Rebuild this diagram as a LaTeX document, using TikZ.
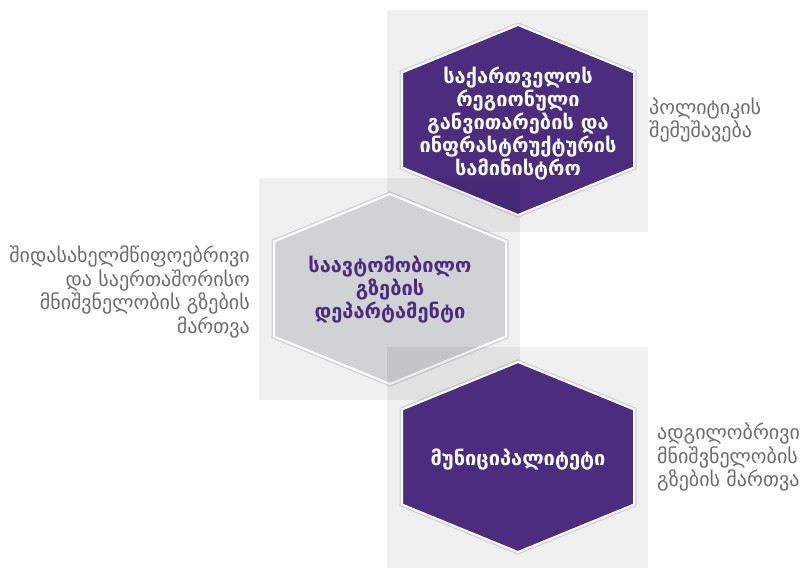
\documentclass[tikz,border=0pt]{standalone}
\usepackage{fontspec}
\setmainfont{DejaVu Sans}
\usetikzlibrary{positioning}
\definecolor{hexpurple}{RGB}{75,44,126}
\definecolor{hexgray}{RGB}{209,210,212}
\definecolor{labelgray}{RGB}{108,108,110}

% hexagon round a point: #1 centre, #2 fill colour
\newcommand{\hexround}[2]{%
  \draw[black, opacity=0.12, line width=5pt] (#1) ++(0,-95) -- ++(116,47.5)
    -- ++(0,95) -- ++(-116,47.5) -- ++(-116,-47.5) -- ++(0,-95) -- cycle;
  \draw[white, line width=2pt, fill=#2] (#1) ++(0,-95) -- ++(116,47.5)
    -- ++(0,95) -- ++(-116,47.5) -- ++(-116,-47.5) -- ++(0,-95) -- cycle;
}

\begin{document}
\begin{tikzpicture}[x=1pt,y=-1pt]
    \tikzstyle{greybox} = [fill=black, opacity=0.06]
    \tikzstyle{hextext} = [align=center, inner sep=0pt,
               font=\fontsize{20}{23}\selectfont\bfseries]
    \tikzstyle{sidelabel} = [inner sep=0pt, text=labelgray,
               font=\fontsize{20}{23.5}\selectfont]

    \useasboundingbox (0,0) rectangle (802,567);

    % centres of the three levels
    \coordinate (ministry) at (518,120);
    \coordinate (department) at (390,289);
    \coordinate (municipality) at (518,457);

    % top level
    \fill[greybox] ([shift={(-131,-110)}]ministry) rectangle ++(261,222);
    \hexround{ministry}{hexpurple}
    \node[hextext, white] (ministrylbl) at ([yshift=-4pt]ministry)
      {საქართველოს\\რეგიონული\\განვითარების და\\ინფრასტრუქტურის\\სამინისტრო};

    % middle level
    \fill[greybox] ([shift={(-131,-111)}]department) rectangle ++(261,222);
    \hexround{department}{hexgray}
    \node[hextext, text=hexpurple] (departmentlbl) at ([yshift=-1pt]department)
      {საავტომობილო\\გზების\\დეპარტამენტი};

    % bottom level
    \fill[greybox] ([shift={(-131,-110)}]municipality) rectangle ++(261,222);
    \hexround{municipality}{hexpurple}
    \node[hextext, white] (municipalitylbl) at ([yshift=-3pt]municipality)
      {მუნიციპალიტეტი};

    % side labels
    \node[sidelabel, align=left, right=131pt of ministry] (policy)
      {პოლიტიკის\\შემუშავება};
    \node[sidelabel, align=right, left=140pt of department, yshift=-3pt] (national)
      {შიდასახელმწიფოებრივი\\და საერთაშორისო\\მნიშვნელობის გზების\\მართვა};
    \node[sidelabel, align=left, right=139pt of municipality] (local)
      {ადგილობრივი\\მნიშვნელობის\\გზების მართვა};
\end{tikzpicture}
\end{document}
